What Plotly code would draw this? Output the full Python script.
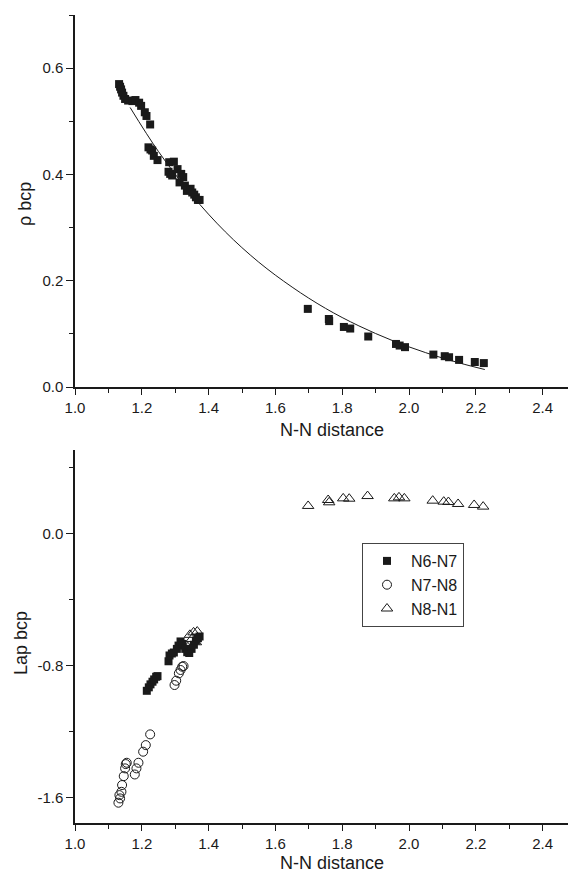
import plotly.graph_objects as go

# ---------------- data ----------------
# top panel: rho at bond critical point vs N-N distance
top_x = [1.132, 1.135, 1.138, 1.141, 1.145, 1.150, 1.159, 1.172, 1.181, 1.192,
         1.198, 1.209, 1.214, 1.225, 1.220, 1.226, 1.231, 1.236, 1.247, 1.280,
         1.282, 1.296, 1.285, 1.291, 1.307, 1.318, 1.324, 1.313, 1.329, 1.335,
         1.346, 1.351, 1.357, 1.362, 1.368, 1.373,
         1.697, 1.760, 1.761, 1.805, 1.824, 1.878, 1.961, 1.972, 1.988, 2.073,
         2.107, 2.120, 2.150, 2.197, 2.224]
top_y = [0.570, 0.565, 0.560, 0.554, 0.548, 0.542, 0.539, 0.538, 0.540, 0.535,
         0.529, 0.517, 0.510, 0.494, 0.451, 0.447, 0.445, 0.435, 0.427, 0.405,
         0.423, 0.424, 0.401, 0.398, 0.410, 0.401, 0.395, 0.385, 0.379, 0.369,
         0.373, 0.366, 0.362, 0.357, 0.352, 0.352,
         0.147, 0.128, 0.124, 0.113, 0.110, 0.095, 0.081, 0.078, 0.075, 0.061,
         0.058, 0.056, 0.051, 0.047, 0.045]

# fitted decay curve
fit_x = [1.165, 1.25, 1.35, 1.45, 1.55, 1.65, 1.75, 1.85, 1.95, 2.05, 2.15, 2.227]
fit_y = [0.526, 0.443, 0.361, 0.292, 0.235, 0.188, 0.148, 0.115, 0.0875, 0.0646, 0.0454, 0.0329]

# bottom panel: Laplacian at bcp vs N-N distance
n67_x = [1.215, 1.221, 1.226, 1.232, 1.237, 1.243, 1.247,
         1.280, 1.283, 1.290, 1.296, 1.305, 1.310, 1.316, 1.322, 1.330, 1.336,
         1.342, 1.349, 1.356, 1.362, 1.368, 1.373]
n67_y = [-0.954, -0.933, -0.915, -0.899, -0.885, -0.869, -0.865,
         -0.775, -0.740, -0.728, -0.722, -0.700, -0.680, -0.655, -0.670, -0.700, -0.720,
         -0.725, -0.700, -0.675, -0.650, -0.635, -0.625]

n78_x = [1.130, 1.135, 1.133, 1.139, 1.141, 1.146, 1.150, 1.152, 1.155,
         1.179, 1.184, 1.190, 1.204, 1.212, 1.225,
         1.298, 1.303, 1.311, 1.316, 1.321, 1.325]
n78_y = [-1.632, -1.606, -1.586, -1.566, -1.525, -1.471, -1.424, -1.398, -1.390,
         -1.461, -1.424, -1.390, -1.323, -1.283, -1.218,
         -0.919, -0.893, -0.848, -0.828, -0.808, -0.804]

n81_x = [1.338, 1.344, 1.350, 1.355, 1.362, 1.366,
         1.698, 1.758, 1.761, 1.803, 1.821, 1.876, 1.956, 1.970, 1.986, 2.071,
         2.104, 2.118, 2.147, 2.195, 2.222]
n81_y = [-0.690, -0.615, -0.640, -0.600, -0.660, -0.595,
         0.166, 0.202, 0.188, 0.212, 0.210, 0.226, 0.212, 0.218, 0.212, 0.198,
         0.192, 0.190, 0.178, 0.172, 0.162]

x_ticks = [1.0, 1.2, 1.4, 1.6, 1.8, 2.0, 2.2, 2.4]
top_y_ticks = [0.0, 0.2, 0.4, 0.6]
bot_y_ticks = [-1.6, -0.8, 0.0]

# ---------------- figure ----------------
FONT = "Liberation Sans, Arial, sans-serif"
INK = "#1a1a1a"

# the page body has an 8px margin, so the figure is drawn 8px in from the
# top-left corner of the window; size it so it ends at the window edge
OFF = 8
W, H = 576 - OFF, 875 - OFF
PLOT_TOP, PLOT_BOT, PLOT_LEFT = 15, 823, 75      # window pixels
PLOT_H = PLOT_BOT - PLOT_TOP
PLOT_W = 576 - PLOT_LEFT

fig = go.Figure()

fig.add_trace(go.Scatter(x=top_x, y=top_y, mode="markers", xaxis="x", yaxis="y",
                         marker=dict(symbol="square", size=8, color=INK,
                                     line=dict(width=0)),
                         showlegend=False))
fig.add_trace(go.Scatter(x=fit_x, y=fit_y, mode="lines", xaxis="x", yaxis="y",
                         line=dict(color=INK, width=1, shape="spline"),
                         showlegend=False))

fig.add_trace(go.Scatter(x=n67_x, y=n67_y, mode="markers", xaxis="x2", yaxis="y2",
                         name="N6-N7",
                         marker=dict(symbol="square", size=8, color=INK,
                                     line=dict(width=0))))
fig.add_trace(go.Scatter(x=n78_x, y=n78_y, mode="markers", xaxis="x2", yaxis="y2",
                         name="N7-N8",
                         marker=dict(symbol="circle-open", size=9, color=INK,
                                     line=dict(width=1, color=INK))))
fig.add_trace(go.Scatter(x=n81_x, y=n81_y, mode="markers", xaxis="x2", yaxis="y2",
                         name="N8-N1",
                         marker=dict(symbol="triangle-up-open", size=10, color=INK,
                                     line=dict(width=1, color=INK))))

base = dict(showline=True, linecolor=INK, linewidth=1.5, mirror=False,
            showgrid=False, zeroline=False, ticks="outside",
            tickwidth=1.2, tickcolor=INK,
            tickfont=dict(family=FONT, size=15, color=INK))
xbase = dict(base, ticklen=6)
ybase = dict(base, ticklen=7)


def py(p):
    return (PLOT_BOT - p) / PLOT_H


def px(p):
    return (p - PLOT_LEFT) / PLOT_W


minor_x = dict(tick0=1.1, dtick=0.2, ticklen=4, tickwidth=1.2, tickcolor=INK,
               ticks="outside")

fig.update_layout(
    width=W, height=H,
    margin=dict(l=PLOT_LEFT - OFF, r=0, t=PLOT_TOP - OFF, b=875 - PLOT_BOT),
    paper_bgcolor="white", plot_bgcolor="white",
    font=dict(family=FONT, color=INK),
    xaxis=dict(domain=[0, 1], anchor="y", range=[1.0, 2.5], tickvals=x_ticks,
               ticktext=[f"{v:.1f}" for v in x_ticks], minor=minor_x, **xbase),
    yaxis=dict(domain=[py(387), 1.0], anchor="x", range=[0, 0.7], tickvals=top_y_ticks,
               ticktext=[f"{v:.1f}" for v in top_y_ticks],
               minor=dict(tick0=0.1, dtick=0.2, ticklen=4, tickwidth=1.2,
                          tickcolor=INK, ticks="outside"),
               **ybase),
    xaxis2=dict(domain=[0, 1], anchor="y2", range=[1.0, 2.5], tickvals=x_ticks,
                ticktext=[f"{v:.1f}" for v in x_ticks], minor=minor_x, **xbase),
    yaxis2=dict(domain=[0, py(450)], anchor="x2", range=[-1.755, 0.505],
                tickvals=bot_y_ticks,
                ticktext=[f"{v:.1f}" for v in bot_y_ticks],
                minor=dict(tickvals=[-1.2, -0.4, 0.4], ticklen=4, tickwidth=1.2,
                           tickcolor=INK, ticks="outside"),
                **ybase),
    showlegend=True,
    legend=dict(x=px(362), y=py(543), xanchor="left", yanchor="top",
                bgcolor="white", bordercolor="#444444", borderwidth=1,
                font=dict(family=FONT, size=16, color=INK),
                itemwidth=38, tracegroupgap=0, itemsizing="trace"),
)

fig.add_annotation(text="N-N distance", xref="paper", yref="paper",
                   x=px(332), y=py(430), xanchor="center", yanchor="middle",
                   showarrow=False, font=dict(family=FONT, size=18, color=INK))
fig.add_annotation(text="N-N distance", xref="paper", yref="paper",
                   x=px(332), y=py(863), xanchor="center", yanchor="middle",
                   showarrow=False, font=dict(family=FONT, size=18, color=INK))
fig.add_annotation(text="\u03c1 bcp", xref="paper", yref="paper",
                   x=px(25), y=py(204), xanchor="center", yanchor="middle",
                   textangle=-90, showarrow=False,
                   font=dict(family=FONT, size=18, color=INK))
fig.add_annotation(text="Lap bcp", xref="paper", yref="paper",
                   x=px(21), y=py(643), xanchor="center", yanchor="middle",
                   textangle=-90, showarrow=False,
                   font=dict(family=FONT, size=18, color=INK))

fig.write_html("out.html")
